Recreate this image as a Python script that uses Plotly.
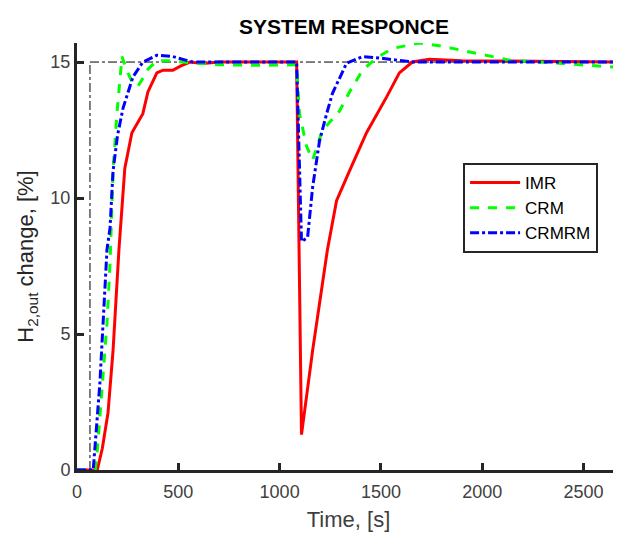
import plotly.graph_objects as go

# IMR
imr_t = [0, 100, 125, 153, 178, 207, 236, 271, 325, 350, 394, 424, 473, 510, 557, 621, 704, 800, 1000, 1084, 1108, 1163, 1236, 1281, 1345, 1429, 1527, 1591, 1655, 1739, 1900, 2200, 2680]
imr_v = [0, 0, 0.8, 2.1, 4.4, 8.1, 11.1, 12.4, 13.1, 13.9, 14.6, 14.7, 14.7, 14.85, 15.0, 14.95, 15.0, 15.0, 15.0, 15.0, 1.3, 4.4, 8.1, 9.9, 11.0, 12.4, 13.7, 14.6, 15.0, 15.1, 15.05, 15.02, 15.0]

# CRM
crm_t = [0, 90, 100, 148, 163, 178, 197, 222, 245, 270, 300, 325, 345, 394, 450, 520, 700, 900, 1084, 1098, 1133, 1163, 1212, 1296, 1345, 1409, 1478, 1557, 1690, 1788, 1985, 2148, 2394, 2680]
crm_v = [0, 0, 0.7, 5.4, 7.6, 11.0, 13.1, 15.2, 14.7, 14.3, 14.1, 14.4, 14.7, 15.05, 15.05, 15.0, 14.9, 14.88, 14.9, 13.1, 11.9, 11.4, 12.5, 13.2, 13.9, 14.7, 15.15, 15.5, 15.7, 15.6, 15.3, 15.05, 14.95, 14.8]

# CRMRM
crmrm_t = [0, 80, 113, 148, 163, 178, 200, 227, 276, 325, 394, 473, 571, 700, 1084, 1108, 1138, 1163, 1197, 1232, 1261, 1330, 1409, 1493, 1655, 2680]
crmrm_v = [0, 0, 3.2, 8.1, 8.9, 11.0, 12.3, 13.3, 14.45, 15.0, 15.25, 15.2, 15.0, 15.0, 15.0, 8.4, 8.55, 10.4, 12.1, 13.1, 13.85, 14.95, 15.2, 15.15, 15.0, 15.0]

# reference lines
ref_t0 = 64
ref_level = 15
x_max = 2680
y_max = 15.7

x_ticks = [0, 500, 1000, 1500, 2000, 2500]
y_ticks = [0, 5, 10, 15]

FONT = "Liberation Sans, Arial, sans-serif"

fig = go.Figure()
fig.add_trace(go.Scatter(x=[ref_t0, ref_t0], y=[0, ref_level], mode="lines",
                         line=dict(color="black", width=1, dash="dashdot"), showlegend=False))
fig.add_trace(go.Scatter(x=[ref_t0, x_max], y=[ref_level, ref_level], mode="lines",
                         line=dict(color="black", width=1, dash="dashdot"), showlegend=False))
fig.add_trace(go.Scatter(x=imr_t, y=imr_v, mode="lines", name="IMR",
                         line=dict(color="#ff0000", width=3)))
fig.add_trace(go.Scatter(x=crm_t, y=crm_v, mode="lines", name="CRM",
                         line=dict(color="#00ff00", width=3, dash="dash")))
fig.add_trace(go.Scatter(x=crmrm_t, y=crmrm_v, mode="lines", name="CRMRM",
                         line=dict(color="#0000ff", width=3, dash="dashdot")))

fig.update_layout(
    width=613, height=526,
    margin=dict(l=69, r=1, t=35, b=64, autoexpand=False),
    paper_bgcolor="white", plot_bgcolor="white",
    font=dict(family=FONT, size=18, color="#404040"),
    title=dict(text="<b>SYSTEM RESPONCE</b>", x=0.548, xanchor="center", y=0.964, yanchor="middle",
               font=dict(family=FONT, size=21, color="black")),
    legend=dict(x=0.711, y=0.719, xanchor="left", yanchor="top",
                bgcolor="white", bordercolor="#262626", borderwidth=2,
                font=dict(family=FONT, size=17, color="black"),
                tracegroupgap=0, itemwidth=50),
    xaxis=dict(range=[0, x_max], tickvals=x_ticks, showgrid=False, zeroline=False,
               showline=True, linecolor="#262626", linewidth=3, automargin=False,
               ticks="inside", ticklen=7, tickwidth=3, tickcolor="#262626",
               tickfont=dict(size=18, color="#404040"), ticklabelstandoff=3,
               title=dict(text="Time, [s]", font=dict(size=22, color="#404040"), standoff=12)),
    yaxis=dict(range=[0, y_max], tickvals=y_ticks, showgrid=False, zeroline=False,
               showline=True, linecolor="#262626", linewidth=3, automargin=False,
               ticks="inside", ticklen=7, tickwidth=3, tickcolor="#262626",
               tickfont=dict(size=18, color="#404040"),
               title=dict(text="H<sub>2,out</sub> change, [%]", font=dict(size=22, color="#262626"), standoff=11)),
)

fig.write_html("out.html")
